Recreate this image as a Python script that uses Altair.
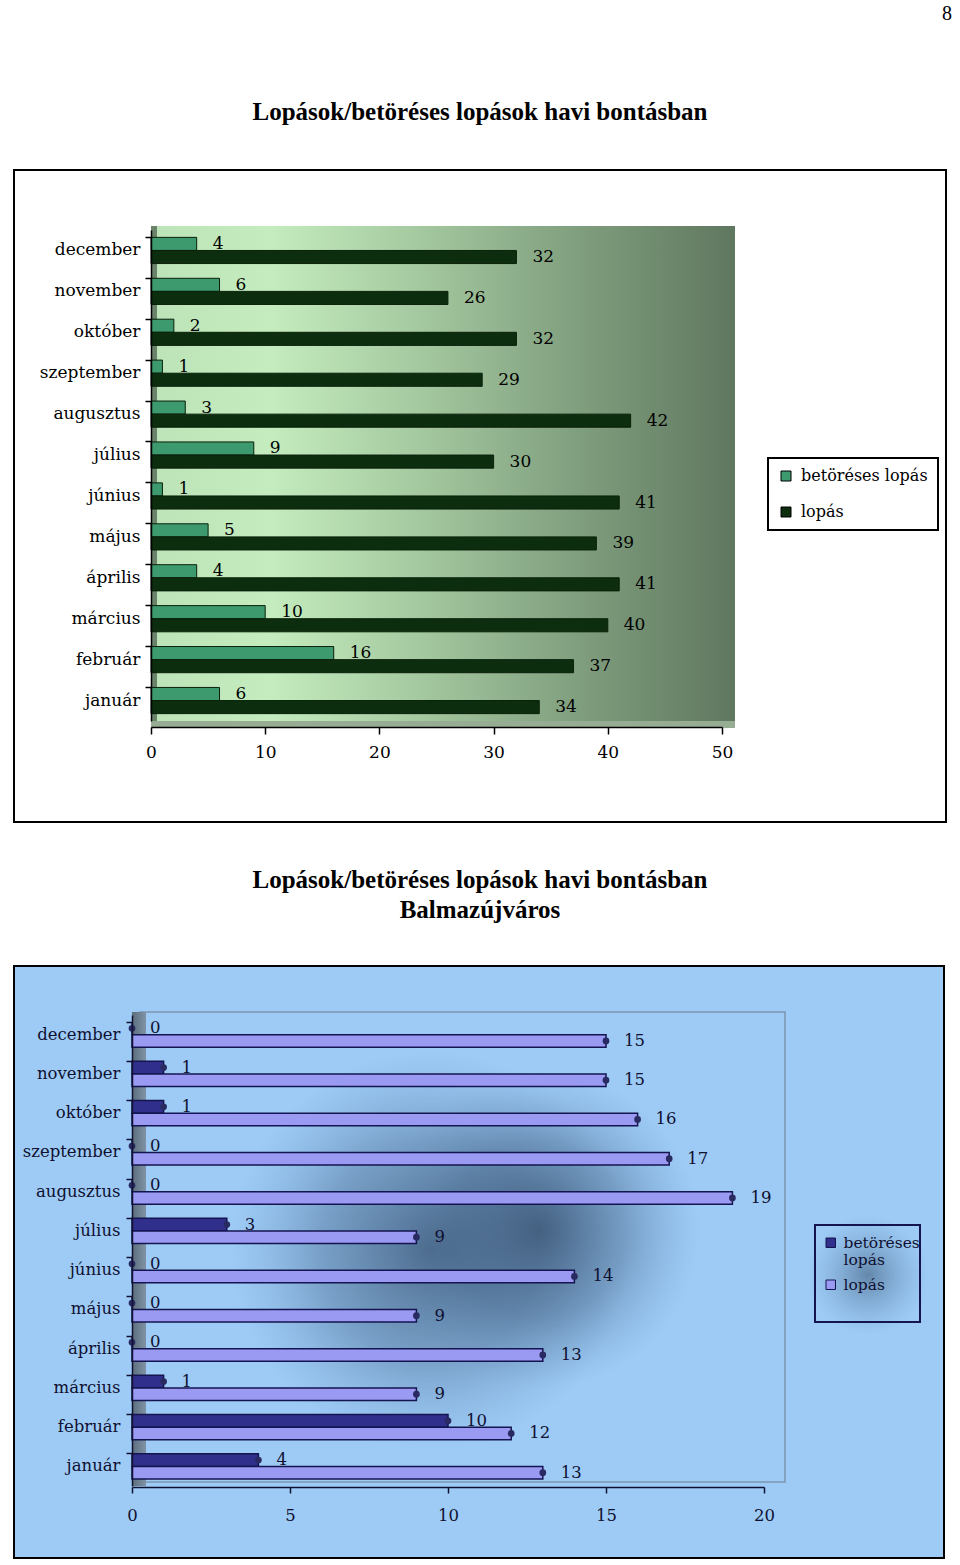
import altair as alt
import pandas as pd

# ---------------- data ----------------
months = ["december", "november", "október", "szeptember", "augusztus", "július",
          "június", "május", "április", "március", "február", "január"]
series = ["betöréses lopás", "lopás"]

# chart 1 (december -> január)
betoreses_1 = [4, 6, 2, 1, 3, 9, 1, 5, 4, 10, 16, 6]
lopas_1 = [32, 26, 32, 29, 42, 30, 41, 39, 41, 40, 37, 34]
x_ticks_1 = [0, 10, 20, 30, 40, 50]

# chart 2 Balmazújváros (december -> január)
betoreses_2 = [0, 1, 1, 0, 0, 3, 0, 0, 0, 1, 10, 4]
lopas_2 = [15, 15, 16, 17, 19, 9, 14, 9, 13, 9, 12, 13]
x_ticks_2 = [0, 5, 10, 15, 20]

page_title = "Lopások/betöréses lopások havi bontásban"
subtitle_2 = "Balmazújváros"
page_number = "8"


def long_df(b, l):
    rows = []
    for m, v in zip(months, b):
        rows.append({"month": m, "series": series[0], "value": v})
    for m, v in zip(months, l):
        rows.append({"month": m, "series": series[1], "value": v})
    return pd.DataFrame(rows)


df1 = long_df(betoreses_1, lopas_1)
df2 = long_df(betoreses_2, lopas_2)
one_row = pd.DataFrame({"k": [1]})

SERIF = "DejaVu Serif"
TITLE_FONT = "Liberation Serif"
PAGE_W, PAGE_H = 960, 1565


def px_rect(x, x2, y, y2, **kw):
    return alt.Chart(one_row).mark_rect(**kw).encode(
        x=alt.value(x), x2=alt.value(x2), y=alt.value(y), y2=alt.value(y2))


def px_text(txt, x, y, **kw):
    return alt.Chart(one_row).mark_text(text=txt, **kw).encode(
        x=alt.value(x), y=alt.value(y))


def radial(stops):
    return alt.RadialGradient(
        gradient="radial",
        stops=[alt.GradientStop(color=c, offset=o) for o, c in stops],
        x1=0.5, y1=0.5, r1=0, x2=0.5, y2=0.5, r2=0.5)


# ---------------- chart 1 ----------------
x_axis_1 = alt.Axis(orient="bottom", offset=727 - PAGE_H, values=x_ticks_1, title=None,
                    grid=False, domainColor="black", domainWidth=1.5, tickColor="black",
                    tickSize=7, tickWidth=1.5, labelFont=SERIF, labelFontSize=17,
                    labelColor="black", labelPadding=10, zindex=1, labelFlush=False)
y_axis_1 = alt.Axis(orient="left", offset=-151, title=None, domainColor="black",
                    domainWidth=1.5, tickColor="black", tickSize=6, tickWidth=1.5,
                    labelFont=SERIF, labelFontSize=17, labelColor="black", labelPadding=5,
                    bandPosition=0, zindex=1)

x1 = alt.X("value:Q", scale=alt.Scale(domain=[0, 50], range=[151, 722], nice=False),
           axis=x_axis_1)
y1 = alt.Y("month:N", sort=months,
           scale=alt.Scale(range=[230, 721], paddingInner=0.36, paddingOuter=0.18),
           axis=y_axis_1)
yo1 = alt.YOffset("series:N", sort=series, scale=alt.Scale(paddingInner=0, paddingOuter=0))

base1 = alt.Chart(df1).encode(y=y1, yOffset=yo1, x=x1)

bars1 = base1.mark_bar(stroke="#0a200a", strokeWidth=1).encode(
    color=alt.Color("series:N", scale=alt.Scale(domain=series, range=["#3d9a6e", "#0c2e0f"]),
                    legend=alt.Legend(title=None, orient="none", legendX=768, legendY=458,
                                      direction="vertical", fillColor="white",
                                      strokeColor="black", padding=10, symbolType="square",
                                      symbolSize=100, symbolStrokeColor="black",
                                      symbolStrokeWidth=1, labelFont=SERIF, labelFontSize=16,
                                      labelColor="black", rowPadding=20, labelOffset=7)))
labels1 = base1.mark_text(align="left", baseline="middle", dx=16, font=SERIF,
                          fontSize=17, color="black").encode(text="value:Q")
group1 = alt.layer(bars1, labels1)

wall_grad_1 = alt.LinearGradient(
    gradient="linear",
    stops=[alt.GradientStop(color="#bde4b8", offset=0),
           alt.GradientStop(color="#c4ecbe", offset=0.2),
           alt.GradientStop(color="#a5c9a0", offset=0.45),
           alt.GradientStop(color="#81a07f", offset=0.72),
           alt.GradientStop(color="#5f775f", offset=1)],
    x1=0, x2=1, y1=0, y2=0)

# ---------------- chart 2 ----------------
x_axis_2 = alt.Axis(orient="bottom", offset=1487 - PAGE_H, values=x_ticks_2, title=None,
                    grid=False, domainColor="#101030", domainWidth=1.5,
                    tickColor="#101030", tickSize=6, tickWidth=1.5, labelFont=SERIF,
                    labelFontSize=16.5, labelColor="#101030", labelPadding=14, zindex=1,
                    labelFlush=False)
y_axis_2 = alt.Axis(orient="left", offset=-132, title=None, domainColor="#101030",
                    domainWidth=1.5, tickColor="#101030", tickSize=6, tickWidth=1.5,
                    labelFont=SERIF, labelFontSize=16.5, labelColor="#101030",
                    labelPadding=6, bandPosition=0, zindex=1)

x2 = alt.X("value:Q", scale=alt.Scale(domain=[0, 20], range=[132, 764], nice=False),
           axis=x_axis_2)
y2 = alt.Y("month:N", sort=months,
           scale=alt.Scale(range=[1015, 1486], paddingInner=0.36, paddingOuter=0.18),
           axis=y_axis_2)
yo2 = alt.YOffset("series:N", sort=series, scale=alt.Scale(paddingInner=0, paddingOuter=0))

base2 = alt.Chart(df2).encode(y=y2, yOffset=yo2, x=x2)

bars2 = base2.mark_bar(stroke="#141450", strokeWidth=1.5).encode(
    color=alt.Color("series:N", scale=alt.Scale(domain=series, range=["#30308c", "#9a9af2"]),
                    legend=alt.Legend(title=None, orient="none", legendX=815, legendY=1227,
                                      direction="vertical", strokeColor="transparent",
                                      padding=8, symbolType="square", symbolSize=90,
                                      symbolStrokeColor="#141450", symbolStrokeWidth=1,
                                      labelFont=SERIF, labelFontSize=15.5,
                                      labelColor="#101030", rowPadding=8, labelOffset=5,
                                      labelExpr="datum.label == 'betöréses lopás' ? ['betöréses', 'lopás'] : datum.label")))
caps2 = base2.mark_point(filled=True, shape="circle", size=45, color="#2a2a62", opacity=1)
labels2 = base2.mark_text(align="left", baseline="middle", dx=18, font=SERIF,
                          fontSize=16.5, color="#101030").encode(text="value:Q")
group2 = alt.layer(bars2, caps2, labels2)

shadow_stops = [(0, "rgba(50,75,105,0.75)"), (0.55, "rgba(65,95,130,0.4)"),
                (1, "rgba(100,140,180,0)")]
legend_shadow = [(0, "rgba(60,90,120,0.6)"), (1, "rgba(100,140,180,0)")]
wall_grad_2 = alt.LinearGradient(
    gradient="linear",
    stops=[alt.GradientStop(color="#5d6e7c", offset=0),
           alt.GradientStop(color="#7f93a6", offset=1)],
    x1=0, x2=1, y1=0, y2=0)

chart = alt.layer(
    # chart 1 decoration
    px_rect(14, 946, 170, 822, fill="white", stroke="black", strokeWidth=2),
    px_rect(155, 735, 226, 721, fill=wall_grad_1),
    px_rect(151, 157, 226, 727, fill="#6b836b"),
    px_rect(151, 735, 721, 728, fill="#97ad93"),
    px_text(page_title, 480, 112, font=TITLE_FONT, fontSize=25, fontWeight="bold",
            align="center", baseline="middle", color="black"),
    px_text(page_number, 952, 14, font=TITLE_FONT, fontSize=20, align="right",
            baseline="middle", color="black"),
    # chart 2 decoration
    px_rect(14, 944, 966, 1558, fill="#9dcbf6", stroke="black", strokeWidth=2),
    px_rect(230, 630, 1050, 1450, fill=radial(shadow_stops)),
    px_rect(380, 700, 1070, 1390, fill=radial(shadow_stops)),
    px_rect(808, 928, 1215, 1335, fill=radial(legend_shadow)),
    px_rect(140, 785, 1012, 1482, fill="transparent", stroke="#7c96b0", strokeWidth=1.5),
    px_rect(132, 146, 1012, 1486, fill=wall_grad_2),
    px_rect(815, 920, 1225, 1322, fill="transparent", stroke="#141450", strokeWidth=2),
    px_text(page_title, 480, 880, font=TITLE_FONT, fontSize=25, fontWeight="bold",
            align="center", baseline="middle", color="black"),
    px_text(subtitle_2, 480, 910, font=TITLE_FONT, fontSize=25, fontWeight="bold",
            align="center", baseline="middle", color="black"),
    # data
    group1,
    group2,
).resolve_scale(
    x="independent", y="independent", yOffset="independent", color="independent"
).resolve_axis(
    x="independent", y="independent"
).resolve_legend(
    color="independent"
).properties(
    width=PAGE_W, height=PAGE_H, padding=0, background="white",
    autosize=alt.AutoSizeParams(type="none"),
).configure_view(stroke="transparent").configure_legend(strokeWidth=2)

chart.save("out.html", embed_options={"renderer": "svg", "actions": False})
